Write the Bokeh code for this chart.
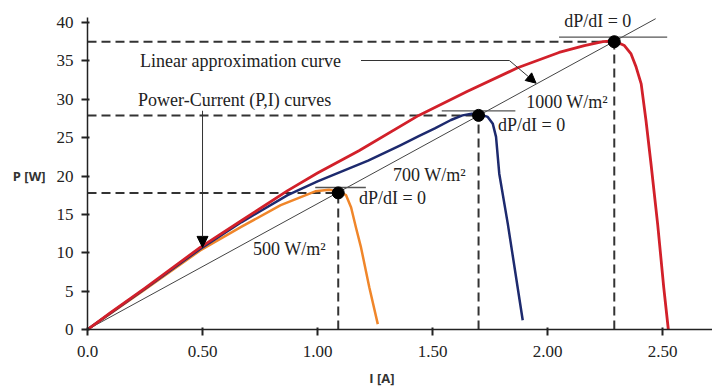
import numpy as np
from bokeh.plotting import figure
from bokeh.models import Range1d, FixedTicker, Label, Arrow, NormalHead, NumeralTickFormatter, LinearAxis
from bokeh.embed import file_html
from bokeh.resources import INLINE

# ---- data ----
i_1000 = [0, 0.10, 0.25, 0.49, 0.67, 0.87, 1.00, 1.18, 1.44, 1.65, 1.87, 2.05, 2.16, 2.24, 2.29,
          2.334, 2.363, 2.385, 2.407, 2.428, 2.45, 2.479, 2.505, 2.525]
p_1000 = [0, 2.2, 5.4, 10.7, 14.2, 18.1, 20.4, 23.3, 27.9, 31.0, 34.1, 36.1, 37.0, 37.5, 37.6,
          37.0, 35.9, 34.2, 32.0, 27.2, 21.5, 13.6, 5.5, 0.0]

i_700 = [0, 0.25, 0.49, 0.67, 0.87, 1.00, 1.22, 1.36, 1.44, 1.51, 1.58, 1.63, 1.67, 1.71,
         1.740, 1.762, 1.776, 1.79, 1.827, 1.892]
p_700 = [0, 5.3, 10.5, 14.0, 17.5, 19.3, 22.0, 24.0, 25.2, 26.2, 27.3, 27.9, 28.1, 28.0,
         27.7, 26.8, 25.1, 20.3, 13.8, 1.2]

i_500 = [0, 0.25, 0.49, 0.67, 0.84, 0.99, 1.05, 1.09, 1.124, 1.146, 1.167, 1.189, 1.225, 1.262]
p_500 = [0, 5.2, 10.3, 13.4, 16.2, 18.0, 18.2, 18.0, 17.5, 15.9, 13.3, 10.7, 5.5, 0.7]

mpp_i = [1.09, 1.70, 2.29]
mpp_p = [17.8, 27.9, 37.5]

lin_i = [0, 2.47]
lin_p = [0, 40.5]

tan_i0 = [0.99, 1.54, 2.05]
tan_i1 = [1.21, 1.86, 2.52]
tan_p = [18.5, 28.5, 38.1]

x_ticks = [0, 0.5, 1.0, 1.5, 2.0, 2.5]
y_ticks = [0, 5, 10, 15, 20, 25, 30, 35, 40]

x_title = "I [A]"
y_title = "P [W]"
x_title_at = 1.28   # position of the axis titles along their axes
y_title_at = 20

SERIF = "Liberation Serif"
TXT = "#222222"

p = figure(width=712, height=389, output_backend="svg", toolbar_location=None,
           x_range=Range1d(0, 2.717), y_range=Range1d(0, 42.87),
           min_border_left=87, min_border_right=0, min_border_top=0, min_border_bottom=60)
p.outline_line_color = None
p.grid.visible = False
p.background_fill_color = "white"
p.border_fill_color = "white"

for ax in (p.xaxis[0], p.yaxis[0]):
    ax.axis_line_color = "#222222"
    ax.axis_line_width = 1.5
    ax.major_tick_line_color = "#222222"
    ax.major_tick_line_width = 2
    ax.minor_tick_line_color = None
    ax.major_label_text_font = SERIF
    ax.major_label_text_font_size = "17px"
    ax.major_label_text_color = TXT

p.xaxis.ticker = FixedTicker(ticks=x_ticks)
p.xaxis.formatter = NumeralTickFormatter(format="0.00")
p.xaxis.major_label_overrides = {0: "0.0"}
p.xaxis.major_tick_out = 6
p.xaxis.major_tick_in = 2
p.xaxis.major_label_standoff = 10

p.yaxis.ticker = FixedTicker(ticks=y_ticks)
p.yaxis.major_tick_out = 6
p.yaxis.major_tick_in = 2
p.yaxis.major_label_standoff = 8
p.yaxis.bounds = (0, 40.65)

# axis titles drawn as single labels of extra (line-less) axes, so they sit where the reference has them
def title_axis(tick, text, standoff):
    a = LinearAxis(ticker=FixedTicker(ticks=[tick]), axis_line_color=None,
                   major_tick_line_color=None, minor_tick_line_color=None,
                   major_tick_out=0, major_tick_in=0,
                   major_label_overrides={tick: text}, major_label_standoff=standoff,
                   major_label_text_font="Open Sans", major_label_text_font_style="bold",
                   major_label_text_font_size="13px", major_label_text_color="#333333")
    return a

p.add_layout(title_axis(y_title_at, y_title, 8), "left")
p.add_layout(title_axis(x_title_at, x_title, 9), "below")

# linear approximation line
p.line(lin_i, lin_p, line_color="#444444", line_width=1)

# dashed guides
p.segment(x0=[0] * 3, y0=mpp_p, x1=mpp_i, y1=mpp_p, line_color="#333333", line_width=2, line_dash="9 5")
p.segment(x0=mpp_i, y0=[0] * 3, x1=mpp_i, y1=mpp_p, line_color="#333333", line_width=2, line_dash="9 5")

# tangents
p.segment(x0=tan_i0, y0=tan_p, x1=tan_i1, y1=tan_p, line_color="#555555", line_width=1.3)

# curves
p.line(i_500, p_500, line_color="#f0862a", line_width=2.5, line_join="round")
p.line(i_700, p_700, line_color="#1d2a6e", line_width=2.5, line_join="round")
p.line(i_1000, p_1000, line_color="#d2202a", line_width=2.8, line_join="round")

# MPP dots
p.scatter(mpp_i, mpp_p, size=12, color="black")

# annotations
def lab(x, y, t, size="18px"):
    p.add_layout(Label(x=x, y=y, text=t, text_font=SERIF, text_font_size=size,
                       text_color=TXT, text_baseline="middle", text_align="left"))

lab(0.228, 35.05, "Linear approximation curve")
lab(0.22, 29.84, "Power-Current (P,I) curves")
lab(2.072, 40.26, "dP/dI = 0")
lab(1.907, 29.6, "1000 W/m²")
lab(1.785, 26.7, "dP/dI = 0")
lab(1.328, 20.07, "700 W/m²")
lab(1.180, 17.2, "dP/dI = 0")
lab(0.72, 10.55, "500 W/m²")

# leader arrows
p.segment(x0=[1.189], y0=[35.05], x1=[1.834], y1=[35.05], line_color="#333333", line_width=1)
p.add_layout(Arrow(end=NormalHead(size=10, fill_color="black", line_color="black"),
                   x_start=1.834, y_start=35.05, x_end=1.95, y_end=32.1,
                   line_color="#333333", line_width=1))
p.add_layout(Arrow(end=NormalHead(size=11, fill_color="black", line_color="black"),
                   x_start=0.5, y_start=28.5, x_end=0.5, y_end=10.7,
                   line_color="#333333", line_width=1))

open("out.html", "w").write(file_html(p, INLINE))
